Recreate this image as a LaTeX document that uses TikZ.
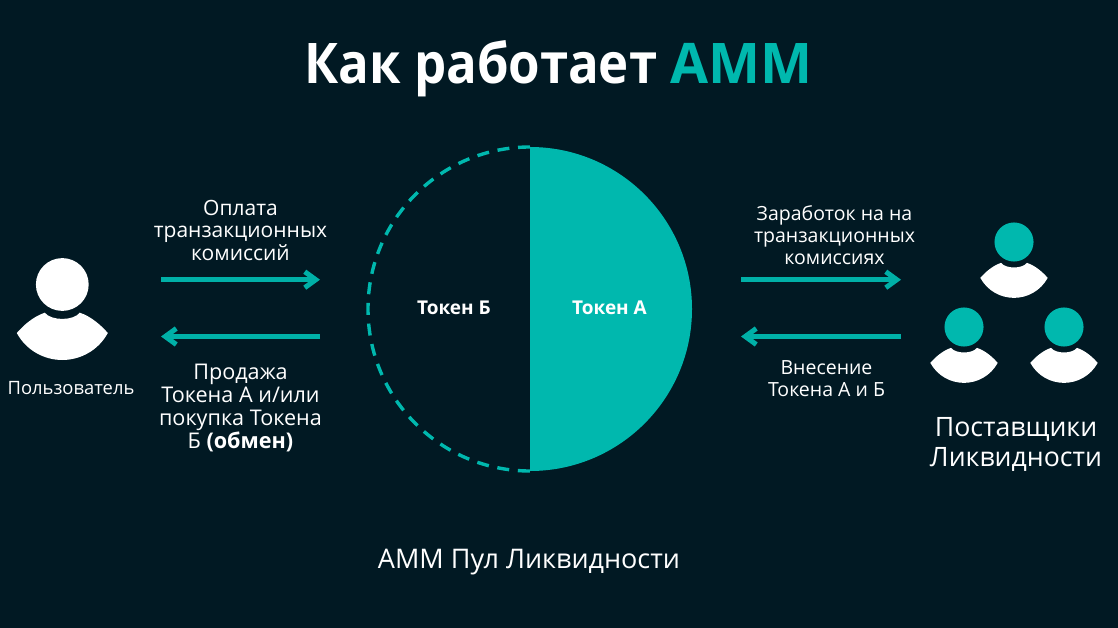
\documentclass[tikz,border=0pt]{standalone}
\usepackage{fontspec}
\setmainfont{Open Sans}
\newfontfamily\titlefont[FakeStretch=0.91]{Open Sans}
\newfontfamily\titlefontb[FakeStretch=0.985]{Open Sans}
\usetikzlibrary{arrows.meta}
\definecolor{bgc}{HTML}{011923}
\definecolor{teal1}{HTML}{00B8AE}
\definecolor{teal2}{HTML}{00B0A7}
\newcommand{\pxfont}[2]{\fontsize{#1pt}{#2pt}\selectfont}
\tikzset{
  x=1pt,y=-1pt,
  flowarrow/.style={draw=teal2,line width=5pt,-{Straight Barb[length=11pt,width=16pt,line width=5pt]}},
  lbl/.style={text=white,align=center,inner sep=0pt},
  person/.pic={
    \fill[white] (-45.5,48.5) .. controls (-39,41) and (-29,32) .. (-17.5,28.2)
      .. controls (-11,36.5) and (11,36.5) .. (17.5,28.2)
      .. controls (29,32) and (39,41) .. (45.5,48.5)
      .. controls (36,66) and (18,75.5) .. (0,75.5)
      .. controls (-18,75.5) and (-36,66) .. (-45.5,48.5) -- cycle;
    \fill[pic actions] (0,0) circle (26.4);
  }
}
\begin{document}
\begin{tikzpicture}
\useasboundingbox (0,0) rectangle (1118,628);
\fill[bgc] (0,0) rectangle (1118,628);
% title
\node[inner sep=0pt,text=white,anchor=base] (title) at (558.5,84) {\fontsize{56pt}{60pt}\selectfont\bfseries\titlefont Как работает {\titlefontb\textcolor{teal1}{AMM}}};
% pool
\coordinate (pooltop) at (530,147);
\coordinate (poolbot) at (530,471);
\fill[teal1] (pooltop) arc[start angle=-90,end angle=90,radius=162] -- cycle;
\draw[teal1,line width=3.4pt,dash pattern=on 12pt off 8.7pt] (pooltop) arc[start angle=-90,end angle=-270,radius=162];
\node[lbl,font=\bfseries\pxfont{19}{23}] (tokb) at (454,308) {Токен Б};
\node[lbl,font=\bfseries\pxfont{19}{23}] (toka) at (609.5,308) {Токен А};
\node[lbl,font=\pxfont{27}{32}] (poolname) at (529,562) {AMM Пул Ликвидности};
% user
\pic[fill=white] at (62.3,284.5) {person};
\node[lbl,font=\pxfont{18.4}{22}] (user) at (71,388) {Пользователь};
% providers
\pic[fill=teal1,scale=0.74] at (1014,242) {person};
\pic[fill=teal1,scale=0.74] at (964,327) {person};
\pic[fill=teal1,scale=0.74] at (1064,327) {person};
\node[lbl,font=\pxfont{26.7}{30}] (prov) at (1016,444) {Поставщики\\Ликвидности};
% arrows
\coordinate (a1s) at (161,279.7); \coordinate (a1e) at (320,279.7);
\coordinate (a2s) at (320,336.5); \coordinate (a2e) at (161,336.5);
\coordinate (a3s) at (741,279.7); \coordinate (a3e) at (901,279.7);
\coordinate (a4s) at (901,336.5); \coordinate (a4e) at (741,336.5);
\draw[flowarrow] (a1s) -- (a1e);
\draw[flowarrow] (a2s) -- (a2e);
\draw[flowarrow] (a3s) -- (a3e);
\draw[flowarrow] (a4s) -- (a4e);
% labels
\node[lbl,font=\pxfont{21}{22.5}] (l1) at (240.5,230) {Оплата\\транзакционных\\комиссий};
\node[lbl,font=\pxfont{21.6}{23}] (l2) at (240.5,408) {Продажа\\Токена А и/или\\покупка Токена\\Б {\bfseries(обмен)}};
\node[lbl,font=\pxfont{19.5}{22}] (l3) at (834.5,235) {Заработок на на\\транзакционных\\комиссиях};
\node[lbl,font=\pxfont{19.5}{22}] (l4) at (826.5,379) {Внесение\\Токена А и Б};
\end{tikzpicture}
\end{document}
